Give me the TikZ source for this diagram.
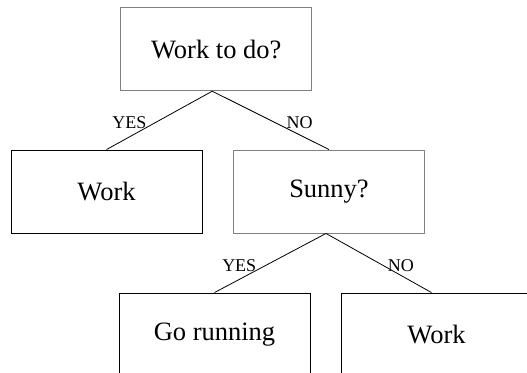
\documentclass[tikz,border=0pt]{standalone}
\usepackage{fontspec}
\setmainfont{Liberation Serif}
\begin{document}
\begin{tikzpicture}[x=1pt,y=-1pt,
  qbox/.style={draw=black!50, line width=0.9pt, minimum width=191pt, minimum height=83pt, inner sep=0pt, font=\fontsize{26.5}{30}\selectfont},
  abox/.style={draw=black, line width=0.9pt, minimum width=191pt, minimum height=83pt, inner sep=0pt, font=\fontsize{26.5}{30}\selectfont},
  edge/.style={draw=black, line width=0.8pt},
  lbl/.style={font=\fontsize{18}{20}\selectfont, inner sep=0pt}]
\useasboundingbox (0,0) rectangle (527,372);
\clip (0,0) rectangle (527,372);
\node[qbox] (q1) at (216.25,49.25) {Work to do?};
\node[abox] (w1) at (106.5,191.5) {Work};
\node[qbox] (q2) at (329,191.5) {Sunny?};
\node[abox] (go) at (214.5,334.5) {Go running};
\node[abox] (w2) at (436.5,334.5) {Work};
\draw[edge] (q1.south) ++(-4,0) coordinate (q1s) -- (w1.north) node[lbl, pos=0.5, xshift=-30pt, yshift=-2pt] (y1) {YES};
\draw[edge] (q1s) -- (q2.north) node[lbl, pos=0.5, xshift=29pt, yshift=-2pt] (n1) {NO};
\draw[edge] (q2.south) ++(-3,0) coordinate (q2s) -- (go.north) node[lbl, pos=0.5, xshift=-31pt, yshift=-3pt] (y2) {YES};
\draw[edge] (q2s) -- ([xshift=-5pt]w2.north) node[lbl, pos=0.5, xshift=22pt, yshift=-3pt] (n2) {NO};
\end{tikzpicture}
\end{document}
